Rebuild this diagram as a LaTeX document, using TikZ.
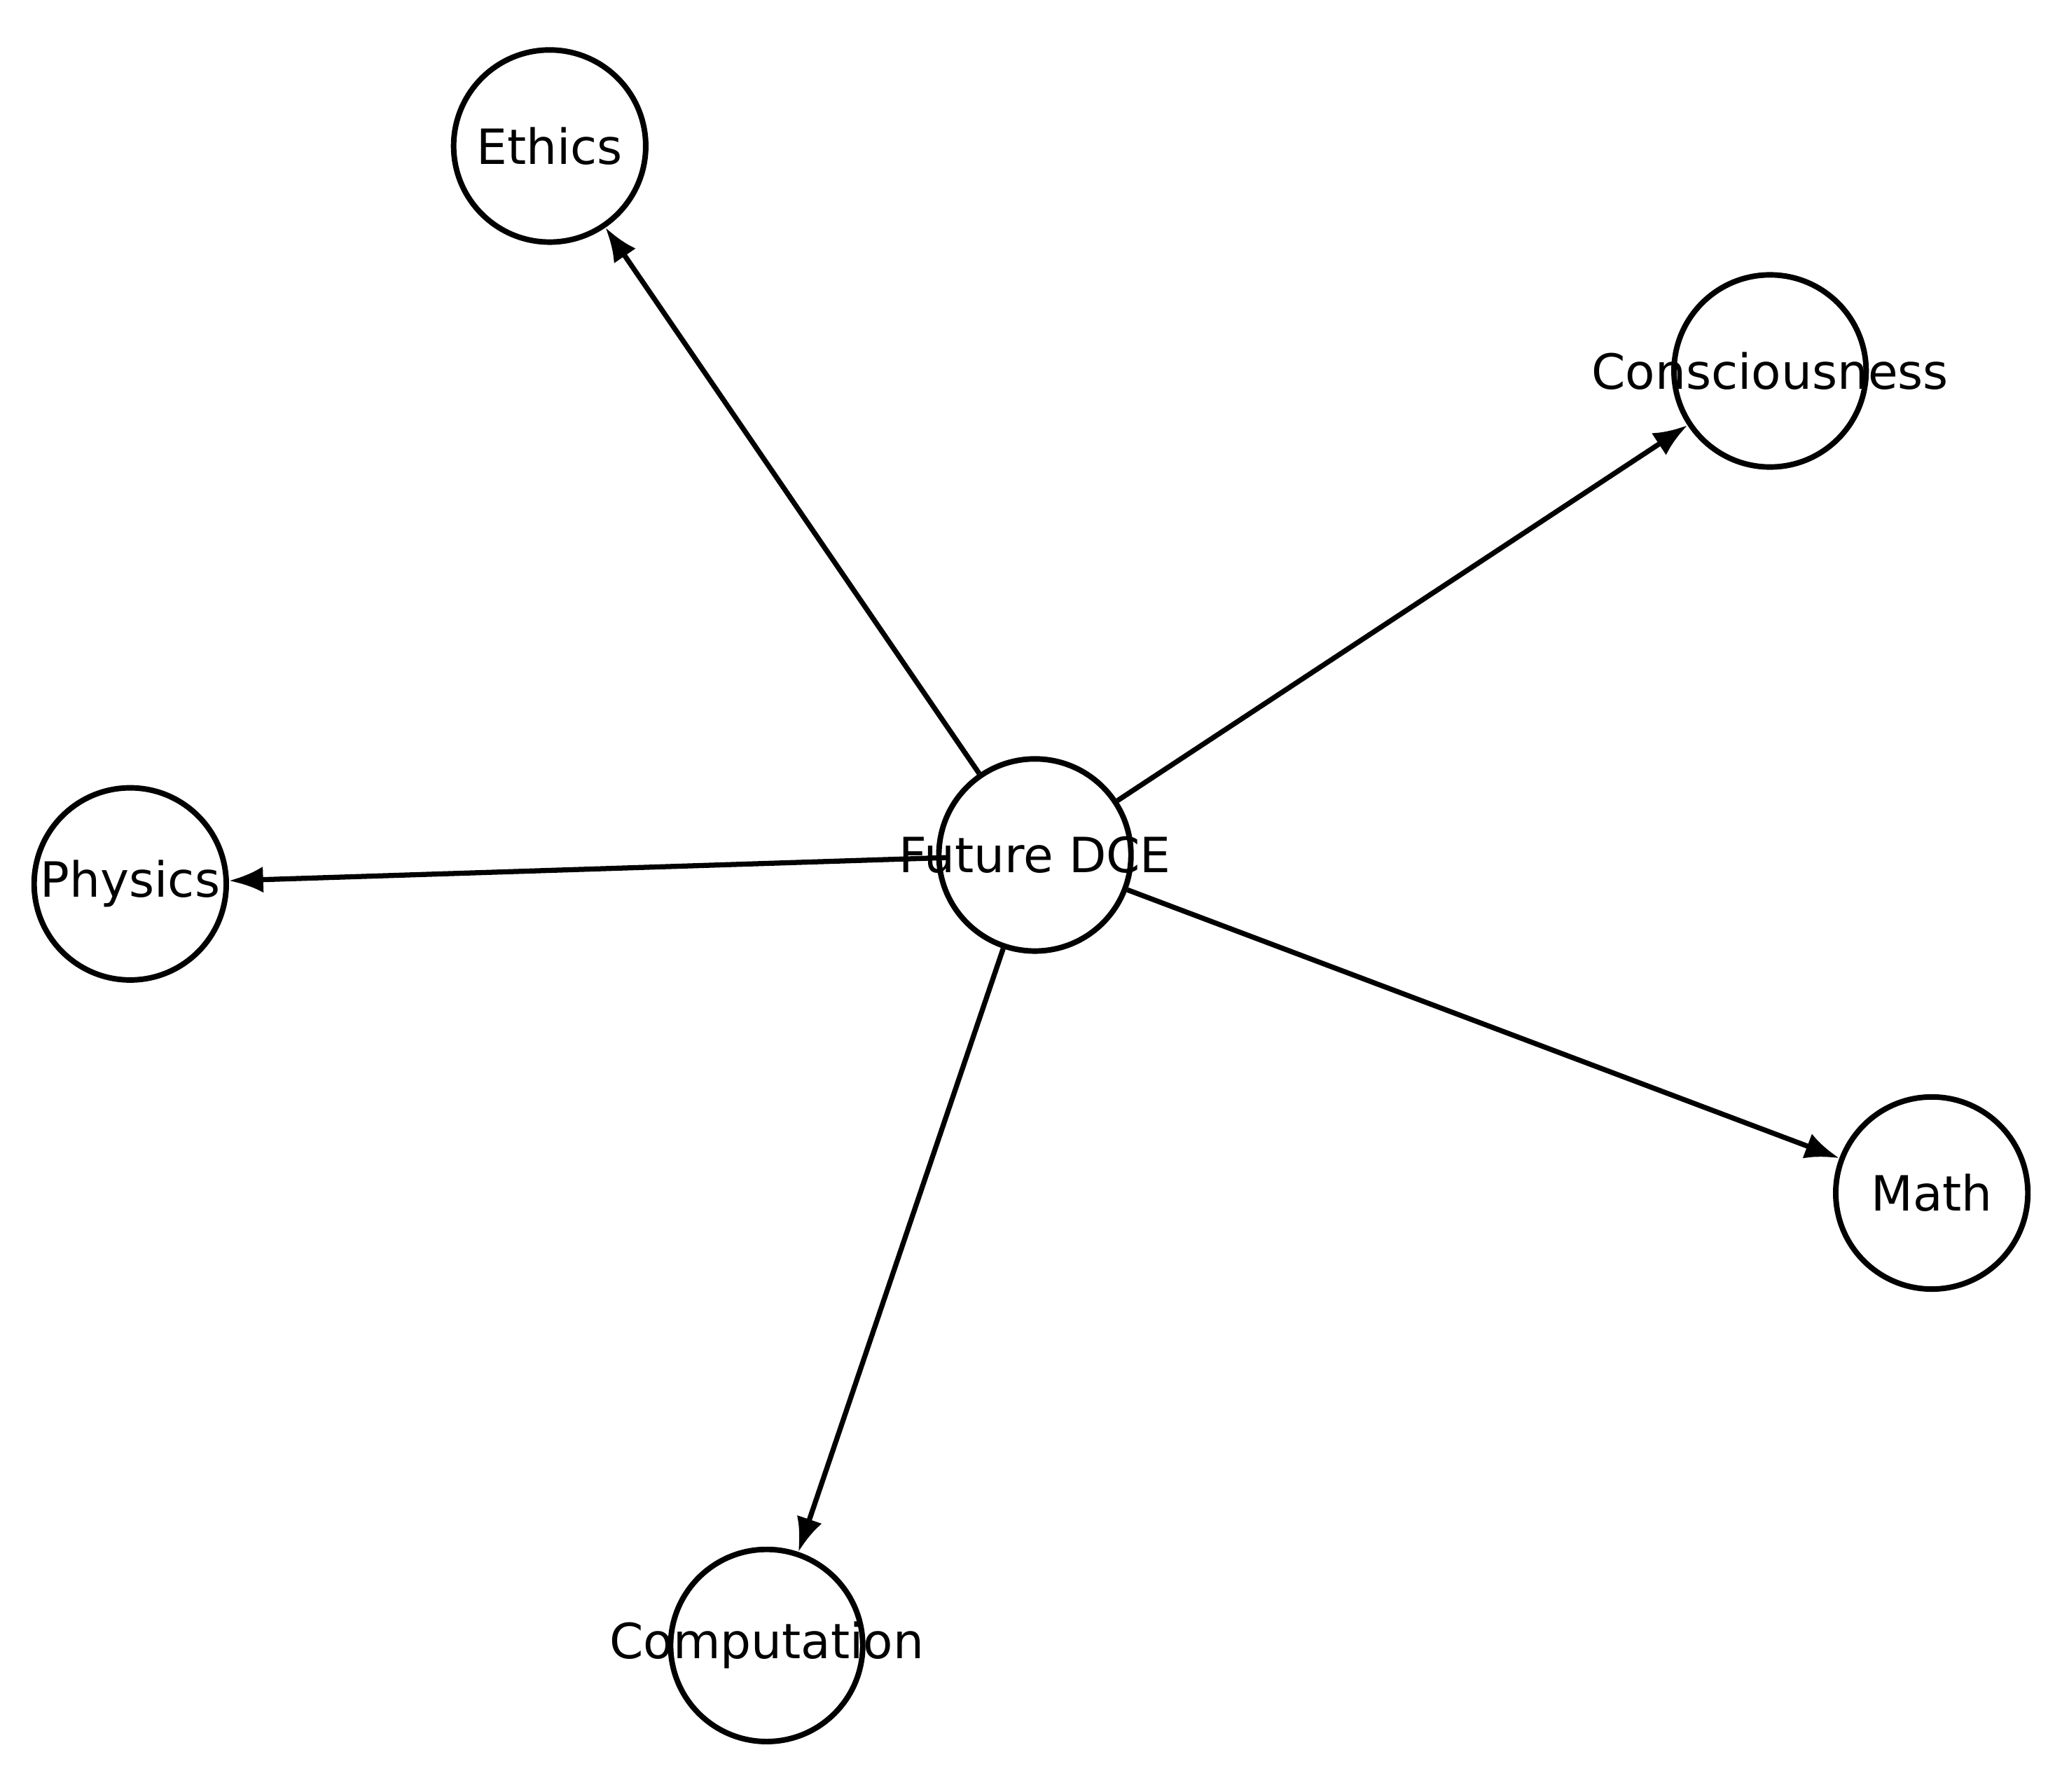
\documentclass[tikz,border=0pt]{standalone}
\usepackage{fontspec}
\setmainfont{DejaVu Sans}
\usetikzlibrary{arrows.meta}
\begin{document}
\begin{tikzpicture}[x=0.01cm,y=-0.01cm,
  nd/.style={circle,draw,line width=1.2pt,minimum size=1.46cm,inner sep=0pt},
  lb/.style={font=\fontsize{10.5pt}{12pt}\selectfont,inner sep=0pt},
  ar/.style={-{Latex[length=0.26cm,width=0.2cm]},line width=1.1pt}]
\useasboundingbox (0,0) rectangle (1568,1362);
\node[nd] (dce) at (787,650) {};
\node[nd] (eth) at (418,111) {};
\node[nd] (con) at (1346,282) {};
\node[nd] (phy) at (99,672) {};
\node[nd] (mat) at (1469,907) {};
\node[nd] (com) at (583,1251) {};
\draw[ar] (dce) -- (eth);
\draw[ar] (dce) -- (con);
\draw[ar] (720,652) coordinate (ps) -- (phy);
\draw[ar] (dce) -- (mat);
\draw[ar] (dce) -- (com);
\node[lb] (tdce) at (dce) {Future DCE};
\node[lb] (teth) at (eth) {Ethics};
\node[lb] (tcon) at (con) {Consciousness};
\node[lb] (tphy) at (phy) {Physics};
\node[lb] (tmat) at (mat) {Math};
\node[lb] (tcom) at (com) {Computation};
\end{tikzpicture}
\end{document}
